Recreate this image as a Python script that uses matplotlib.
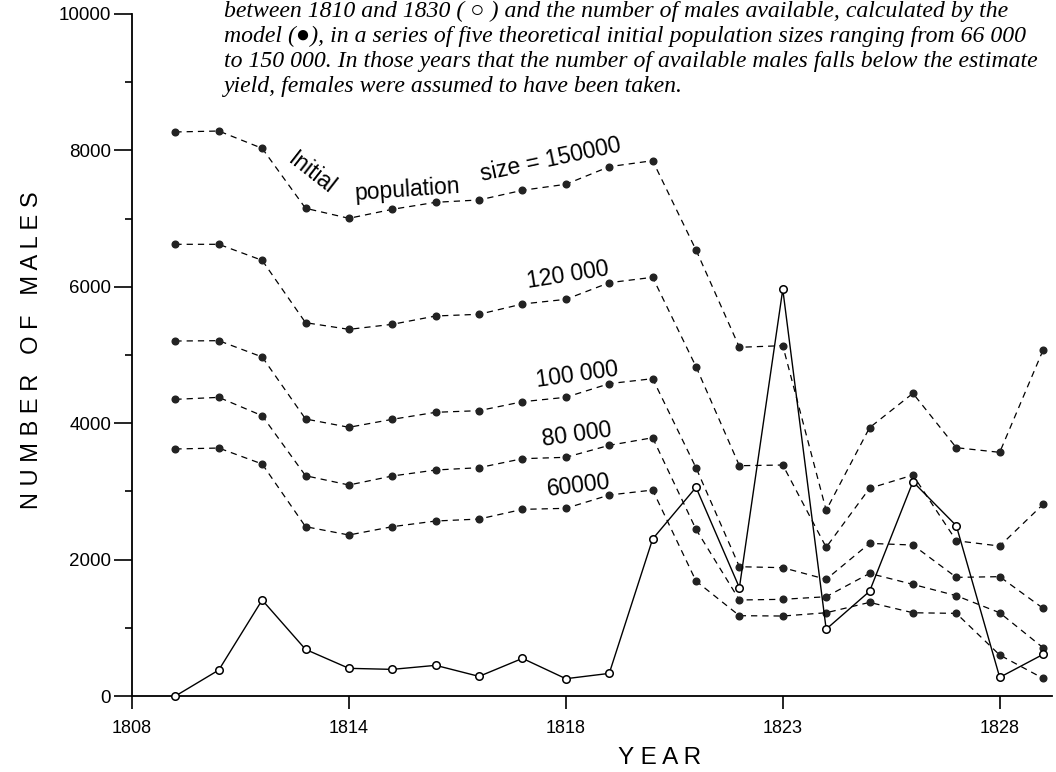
import matplotlib
matplotlib.use("Agg")
from matplotlib import pyplot as plt

years = list(range(1810, 1831))
observed = [0, 381, 1408, 684, 406, 391, 450, 288, 552, 254, 332,
            2302, 3060, 1589, 5963, 980, 1535, 3142, 2497, 274, 611]
males_150000 = [8270, 8284, 8030, 7151, 7004, 7136, 7239, 7273, 7415, 7503, 7761,
                7849, 6540, 5113, 5137, 2723, 3934, 4438, 3641, 3573, 5073]
males_120000 = [6623, 6623, 6388, 5474, 5376, 5450, 5572, 5597, 5748, 5816, 6060,
                6139, 4829, 3377, 3387, 2181, 3045, 3240, 2277, 2199, 2811]
males_100000 = [5205, 5210, 4971, 4062, 3940, 4057, 4160, 4184, 4315, 4380, 4580,
                4653, 3347, 1896, 1882, 1711, 2238, 2214, 1740, 1750, 1286]
males_80000 = [4350, 4379, 4110, 3230, 3094, 3226, 3314, 3348, 3480, 3500, 3676,
               3787, 2444, 1408, 1418, 1456, 1798, 1637, 1471, 1221, 708]
males_60000 = [3622, 3636, 3402, 2483, 2361, 2483, 2566, 2595, 2737, 2752, 2947,
               3020, 1686, 1178, 1173, 1221, 1373, 1221, 1212, 601, 259]

tick_labels = ['1808', '1814', '1818', '1823', '1828']
caption = ("between 1810 and 1830 ( \u25CB ) and the number of males available, calculated by the\n"
           "model (\u25CF), in a series of five theoretical initial population sizes ranging from 66 000\n"
           "to 150 000. In those years that the number of available males falls below the estimate\n"
           "yield, females were assumed to have been taken.")

# x positions: the original axis puts one step before the first year
xs = [y - 1809 for y in years]

fig = plt.figure(figsize=(10.56, 7.72), dpi=100)
ax = fig.add_axes([0.125, 0.0984, 0.871, 0.8835])

for series in [males_150000, males_120000, males_100000, males_80000, males_60000]:
    ax.plot(xs, series, color='black', lw=0.9, linestyle=(0, (5, 4)),
            marker='o', markersize=4.8, markerfacecolor='#222222',
            markeredgecolor='#222222', clip_on=False, zorder=2)

ax.plot(xs, observed, color='black', lw=1.0, marker='o', markersize=5.4,
        markerfacecolor='white', markeredgecolor='black', markeredgewidth=1.1,
        clip_on=False, zorder=3)

sans = 'Liberation Sans'
lab = dict(ha='center', va='center', rotation_mode='anchor', fontsize=16.5, family=sans)
ax.text(4.15, 7660, 'Initial', rotation=-38, **lab)
ax.text(6.35, 7420, 'population', rotation=4, **lab)
ax.text(9.65, 7860, 'size = 150000', rotation=12, **lab)
ax.text(10.05, 6170, '120 000', rotation=9, **lab)
ax.text(10.25, 4710, '100 000', rotation=8, **lab)
ax.text(10.25, 3830, '80 000', rotation=8, **lab)
ax.text(10.3, 3080, '60000', rotation=7, **lab)

ax.set_xlim(0, 21.2)
ax.set_ylim(0, 10000)
ax.set_xticks([0, 5, 10, 15, 20])
ax.set_xticklabels(tick_labels, family=sans, fontsize=13)
ax.set_yticks(range(0, 10001, 2000))
ax.set_yticks(range(1000, 10000, 2000), minor=True)
ax.set_yticklabels([str(v) for v in range(0, 10001, 2000)], family=sans, fontsize=13.5)
ax.tick_params(axis='x', direction='out', length=9, width=1.2, pad=8)
ax.tick_params(axis='y', which='major', direction='out', length=13, width=1.2, pad=2)
ax.tick_params(axis='y', which='minor', direction='out', length=5, width=1.2)
for s in ['top', 'right']:
    ax.spines[s].set_visible(False)
for s in ['left', 'bottom']:
    ax.spines[s].set_linewidth(1.3)

fig.text(0.625, 0.018, 'Y E A R', ha='center', va='center', fontsize=17.5,
         family=sans)
fig.text(0.03, 1 - 350 / 772, 'N U M B E R   O F   M A L E S', rotation=90,
         ha='center', va='center', fontsize=17, family=sans)
fig.text(224 / 1056, 1 - 1 / 772, caption, ha='left', va='top', fontsize=17.1,
         style='italic', family=['Liberation Serif', 'DejaVu Serif'],
         linespacing=1.24)

fig.savefig('out.png', dpi=100)
